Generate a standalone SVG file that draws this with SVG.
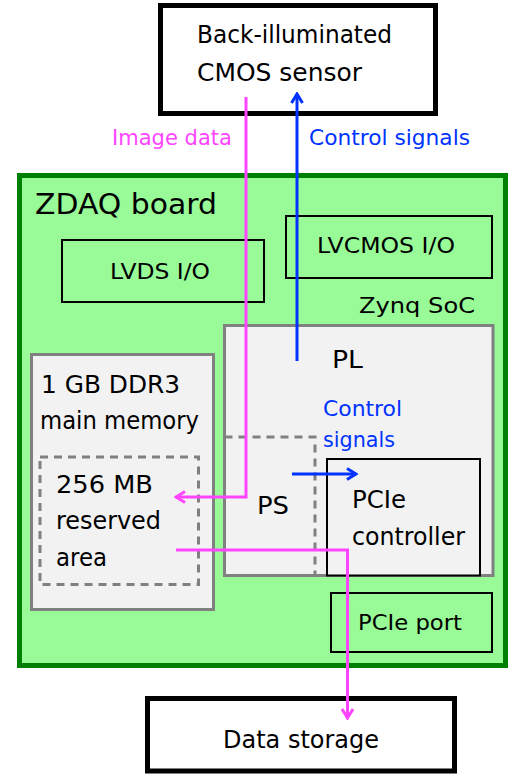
<svg xmlns="http://www.w3.org/2000/svg" width="509" height="776" viewBox="0 0 509 776">
<style>
text{font-family:"DejaVu Sans","Liberation Sans",sans-serif;fill:#000}
.big{font-size:24px}
.mid{font-size:21.5px}
.blk{fill:none;stroke:#000;stroke-width:2}
.thick{fill:#fff;stroke:#000;stroke-width:5}
.gray{fill:#f2f2f2;stroke:#808080;stroke-width:3}
.dash{fill:none;stroke:#808080;stroke-width:3;stroke-dasharray:8 6}
.mag{fill:none;stroke:#ff44ff;stroke-width:3}
.blu{fill:none;stroke:#0033ff;stroke-width:3}
.tm{fill:#ff44ff}
.tb{fill:#0033ff}
</style>
<defs>
<marker id="am" viewBox="0 0 14 14" refX="12" refY="7" markerWidth="14" markerHeight="14" markerUnits="userSpaceOnUse" orient="auto">
<path d="M3,1.5 L12,7 L3,12.5" fill="none" stroke="#ff44ff" stroke-width="3"/>
</marker>
<marker id="ab" viewBox="0 0 14 14" refX="12" refY="7" markerWidth="14" markerHeight="14" markerUnits="userSpaceOnUse" orient="auto">
<path d="M3,1.5 L12,7 L3,12.5" fill="none" stroke="#0033ff" stroke-width="3"/>
</marker>
</defs>
<g id="sensor">
<rect class="thick" x="160.5" y="5.5" width="275" height="108"/>
<text class="big" x="197" y="43" textLength="195" lengthAdjust="spacingAndGlyphs">Back-illuminated</text>
<text class="big" x="197" y="81" textLength="165" lengthAdjust="spacingAndGlyphs">CMOS sensor</text>
</g>
<g id="board">
<rect x="19.5" y="175.5" width="486" height="490" fill="#98fb98" stroke="#008000" stroke-width="5"/>
<text x="35" y="214" font-size="29" textLength="182" lengthAdjust="spacingAndGlyphs">ZDAQ board</text>
</g>
<g id="lvds">
<rect class="blk" x="62" y="240" width="202" height="62"/>
<text class="mid" x="110" y="279" textLength="100" lengthAdjust="spacingAndGlyphs">LVDS I/O</text>
</g>
<g id="lvcmos">
<rect class="blk" x="286" y="216" width="206" height="62"/>
<text class="mid" x="317" y="253" textLength="138" lengthAdjust="spacingAndGlyphs">LVCMOS I/O</text>
</g>
<g id="zynq">
<text class="mid" x="359" y="313" textLength="116" lengthAdjust="spacingAndGlyphs">Zynq SoC</text>
<rect class="gray" x="224.5" y="325.5" width="268.5" height="250"/>
<text class="big" x="332" y="368" textLength="31" lengthAdjust="spacingAndGlyphs">PL</text>
</g>
<g id="ps">
<path class="dash" d="M224.5,437 H315 V575"/>
<text class="big" x="257" y="514" textLength="32" lengthAdjust="spacingAndGlyphs">PS</text>
</g>
<g id="pcie-controller">
<rect x="327" y="459" width="153" height="116.5" fill="#f2f2f2" stroke="#000" stroke-width="2"/>
<text class="big" x="352" y="508" textLength="54" lengthAdjust="spacingAndGlyphs">PCIe</text>
<text class="big" x="352" y="545" textLength="113" lengthAdjust="spacingAndGlyphs">controller</text>
</g>
<g id="ddr3">
<rect class="gray" x="31.5" y="354.5" width="182" height="255"/>
<text class="big" x="41" y="393" textLength="139" lengthAdjust="spacingAndGlyphs">1 GB DDR3</text>
<text class="big" x="40" y="429" textLength="159" lengthAdjust="spacingAndGlyphs">main memory</text>
</g>
<g id="reserved">
<rect class="dash" x="40" y="457" width="158.5" height="127.5"/>
<text class="big" x="56" y="493" textLength="97" lengthAdjust="spacingAndGlyphs">256 MB</text>
<text class="big" x="56" y="529" textLength="105" lengthAdjust="spacingAndGlyphs">reserved</text>
<text class="big" x="56" y="566" textLength="51" lengthAdjust="spacingAndGlyphs">area</text>
</g>
<g id="pcie-port">
<rect class="blk" x="331" y="593" width="161" height="59"/>
<text class="mid" x="358" y="630" textLength="104" lengthAdjust="spacingAndGlyphs">PCIe port</text>
</g>
<g id="storage">
<rect class="thick" x="147.5" y="698.5" width="307" height="72.5"/>
<text class="big" x="223" y="748" textLength="156" lengthAdjust="spacingAndGlyphs">Data storage</text>
</g>
<g id="connectors">
<path class="mag" d="M246,97 V497 H176" marker-end="url(#am)"/>
<path class="mag" d="M176,550 H347.5 V718" marker-end="url(#am)"/>
<path class="blu" d="M297,361 V94" marker-end="url(#ab)"/>
<path class="blu" d="M292,474 H356" marker-end="url(#ab)"/>
<text class="mid tm" x="112" y="145" textLength="120" lengthAdjust="spacingAndGlyphs">Image data</text>
<text class="mid tb" x="309" y="145" textLength="161" lengthAdjust="spacingAndGlyphs">Control signals</text>
<text class="mid tb" x="323" y="416" textLength="79" lengthAdjust="spacingAndGlyphs">Control</text>
<text class="mid tb" x="323" y="447" textLength="72" lengthAdjust="spacingAndGlyphs">signals</text>
</g>
</svg>
